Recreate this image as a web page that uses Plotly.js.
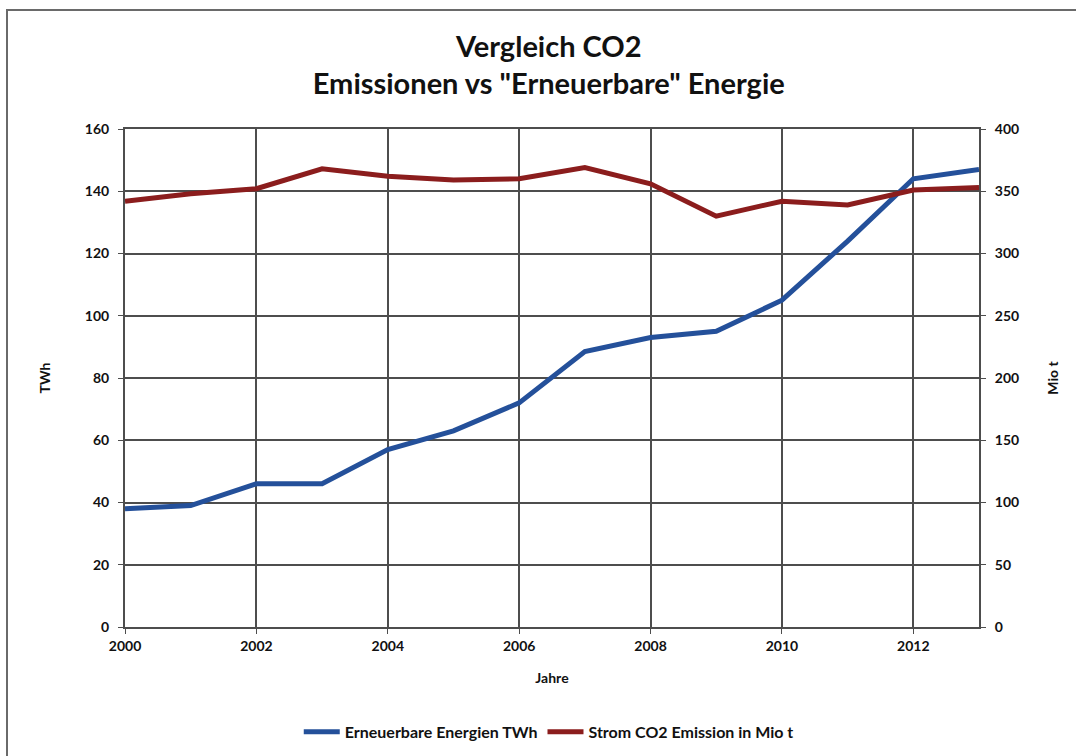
<!DOCTYPE html>
<html>
<head>
<meta charset="utf-8">
<script src="https://cdn.plot.ly/plotly-3.0.1.min.js"></script>
<style>
  html, body { margin: 0; padding: 0; background: #fff; overflow: hidden; }
  #frame { position: absolute; left: 6px; top: 9px; width: 1100px; height: 780px;
           border-left: 2px solid #6a6a6a; border-top: 2px solid #6a6a6a; }
  #chart { position: absolute; left: 0; top: 0; width: 1076px; height: 756px; }
</style>
</head>
<body>
<div id="frame"></div>
<div id="chart"></div>
<script>
const years = [2000, 2001, 2002, 2003, 2004, 2005, 2006, 2007, 2008, 2009, 2010, 2011, 2012, 2013];
const renewablesTWh = [38, 39, 46, 46, 57, 63, 72, 88.5, 93, 95, 105, 124, 144, 147];
const co2MioT = [342, 348, 352, 368, 362, 359, 360, 369, 356, 330, 342, 339, 351, 353];
const seriesNames = ["Erneuerbare Energien TWh", "Strom CO2 Emission in Mio t"];

const FONT = "Lato, 'Open Sans', sans-serif";
const GRID = "#4d4d4d";
const TICKFONT = { family: FONT, size: 14, color: "#111", weight: "bold" };

const traces = [
  { x: years, y: renewablesTWh, name: seriesNames[0], type: "scatter", mode: "lines",
    line: { color: "#24509a", width: 5 }, yaxis: "y" },
  { x: years, y: co2MioT, name: seriesNames[1], type: "scatter", mode: "lines",
    line: { color: "#8b1d1d", width: 5 }, yaxis: "y2" }
];

const layout = {
  width: 1076, height: 756,
  paper_bgcolor: "rgba(0,0,0,0)", plot_bgcolor: "#fff",
  margin: { l: 125, r: 97, t: 129, b: 129, autoexpand: false },
  font: { family: FONT, color: "#111" },
  title: { text: "<b>Vergleich CO2<br>Emissionen vs \"Erneuerbare\" Energie</b>",
           font: { family: FONT, size: 29, color: "#111" },
           x: 0.51, xanchor: "center", y: 0.925, yanchor: "top", yref: "container" },
  xaxis: { range: [2000, 2013], dtick: 2, tick0: 2000, showgrid: true, gridcolor: GRID, gridwidth: 2,
           showline: true, linecolor: GRID, linewidth: 2, mirror: true,
           ticks: "outside", ticklen: 5, tickcolor: GRID, tickwidth: 1,
           tickfont: TICKFONT,
           title: { text: "<b>Jahre</b>", font: { family: FONT, size: 14, color: "#111" }, standoff: 20 },
           zeroline: false, fixedrange: true },
  yaxis: { range: [0, 160], dtick: 20, showgrid: true, gridcolor: GRID, gridwidth: 2,
           showline: true, linecolor: GRID, linewidth: 2,
           ticks: "outside", ticklen: 5, tickcolor: GRID, tickwidth: 1, ticklabelstandoff: 6,
           tickfont: TICKFONT,
           title: { text: "<b>TWh</b>", font: { family: FONT, size: 14, color: "#111" }, standoff: 31 },
           zeroline: false, fixedrange: true },
  yaxis2: { range: [0, 400], dtick: 50, overlaying: "y", side: "right", showgrid: false,
            showline: true, linecolor: GRID, linewidth: 2,
            ticks: "outside", ticklen: 5, tickcolor: GRID, tickwidth: 1, ticklabelstandoff: 6,
            tickfont: TICKFONT,
            title: { text: "<b>Mio t</b>", font: { family: FONT, size: 14, color: "#111" }, standoff: 30 },
            zeroline: false, fixedrange: true },
  legend: { orientation: "h", x: 0.51, xanchor: "center", xref: "container",
            y: 0.032, yanchor: "middle", yref: "container",
            font: { family: FONT, size: 16, color: "#111", weight: "bold" }, itemwidth: 36, tracegroupgap: 0 },
  showlegend: true
};

Plotly.newPlot("chart", traces, layout, { displayModeBar: false, staticPlot: true });
</script>
</body>
</html>
